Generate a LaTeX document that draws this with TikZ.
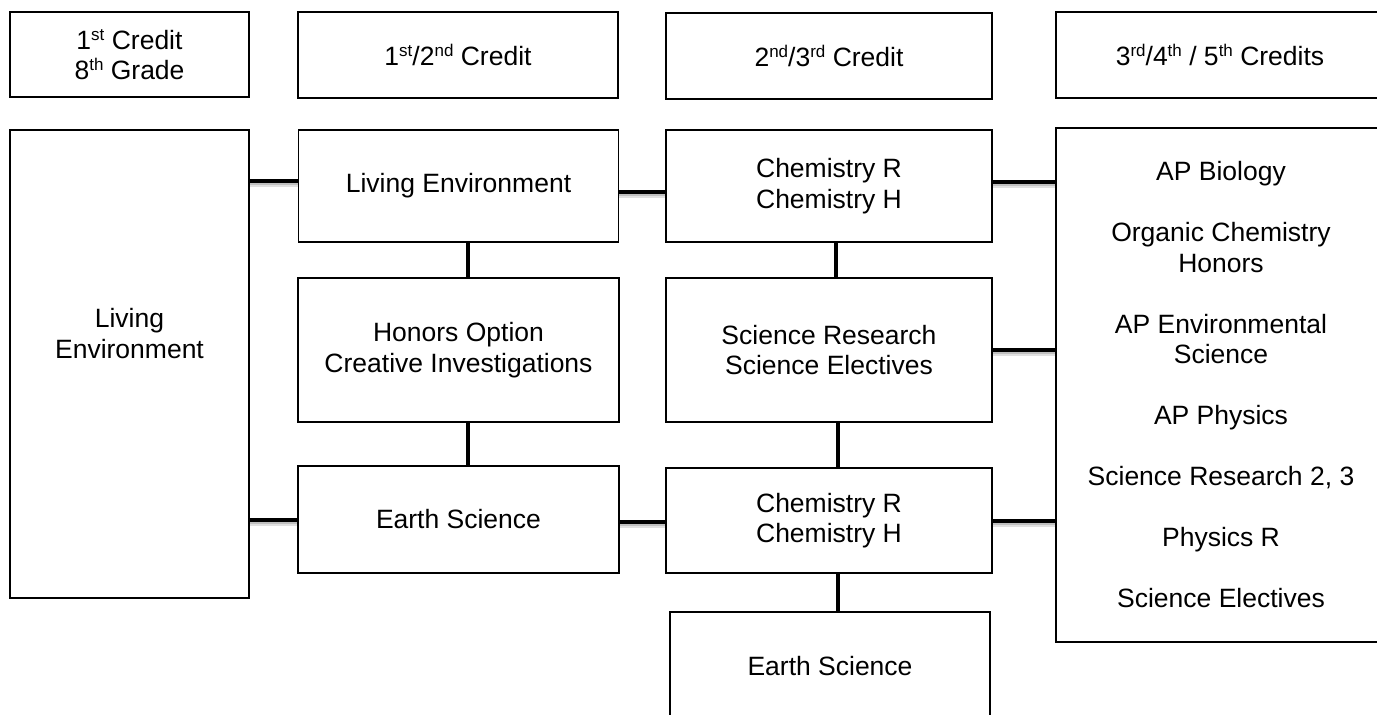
\documentclass[tikz,border=0pt]{standalone}
\usepackage{fontspec}
\setmainfont{Liberation Sans}
\newcommand\sups[1]{\raisebox{9pt}{\fontsize{17}{17}\selectfont #1}}
\begin{document}
\begin{tikzpicture}[x=1pt,y=-1pt,
  txt/.style={align=center, inner sep=0pt, font=\fontsize{26.5}{30.5}\selectfont},
  box/.style={txt, draw, line width=1.8pt, rectangle},
  link/.style={line width=4.8pt, black,
    preaction={draw, black!12, line width=7pt, transform canvas={yshift=-2.5pt}},
    preaction={draw, black!25, line width=4pt, transform canvas={yshift=-2pt}}},
  vlink/.style={line width=4.8pt, black}]
\useasboundingbox (0,0) rectangle (1377,715);
\fill[white] (0,0) rectangle (1377,715);
\clip (0,0) rectangle (1377,715);
% headers
\node[box, minimum width=239pt, minimum height=85pt] (h1) at (129.5,54.5) {1\sups{st} Credit\\8\sups{th} Grade};
\node[box, minimum width=320pt, minimum height=86pt] (h2) at (458,55) {1\sups{st}/2\sups{nd} Credit};
\node[box, minimum width=326pt, minimum height=86pt] (h3) at (829,56) {2\sups{nd}/3\sups{rd} Credit};
\node[box, minimum width=328pt, minimum height=86pt] (h4) at (1220,55) {3\sups{rd}/4\sups{th} / 5\sups{th} Credits};
% column 1
\node[box, minimum width=239pt, minimum height=468pt] (lbox) at (129.5,364) {};
\node[txt] (lbtext) at (129.5,333.5) {Living\\Environment};
% column 2
\node[box, minimum width=320pt, minimum height=112pt] (le) at (458.5,186) {Living Environment};
\node[box, minimum width=321pt, minimum height=144pt] (hon) at (458.5,350) {Honors Option\\Creative Investigations};
\node[box, minimum width=321pt, minimum height=107pt] (esl) at (458.5,519.5) {Earth Science};
% column 3
\node[box, minimum width=326pt, minimum height=112pt] (cht) at (829,186) {Chemistry R\\Chemistry H};
\node[box, minimum width=326pt, minimum height=144pt] (sr) at (829,350) {Science Research\\Science Electives};
\node[box, minimum width=326pt, minimum height=105pt] (chb) at (829,520.5) {Chemistry R\\Chemistry H};
\node[box, minimum width=320pt, minimum height=108pt] (esb) at (830,666) {Earth Science};
% column 4
\node[box, minimum width=330pt, minimum height=514pt] (rbox) at (1221,385) {AP Biology\\[30.5pt]Organic Chemistry\\Honors\\[30.5pt]AP Environmental\\Science\\[30.5pt]AP Physics\\[30.5pt]Science Research 2, 3\\[30.5pt]Physics R\\[30.5pt]Science Electives};
% horizontal connectors
\draw[link] (lbox.east |- 0,181) -- (le.west |- 0,181);
\draw[link] (le.east |- 0,192) -- (cht.west |- 0,192);
\draw[link] (cht.east |- 0,182) -- (rbox.west |- 0,182);
\draw[link] (sr.east |- 0,350) -- (rbox.west |- 0,350);
\draw[link] (chb.east |- 0,521) -- (rbox.west |- 0,521);
\draw[link] (lbox.east |- 0,520) -- (esl.west |- 0,520);
\draw[link] (esl.east |- 0,522) -- (chb.west |- 0,522);
% vertical connectors
\draw[vlink] (le.south -| 468,0) -- (hon.north -| 468,0);
\draw[vlink] (hon.south -| 468,0) -- (esl.north -| 468,0);
\draw[vlink] (cht.south -| 836,0) -- (sr.north -| 836,0);
\draw[vlink] (sr.south -| 838,0) -- (chb.north -| 838,0);
\draw[vlink] (chb.south -| 838,0) -- (esb.north -| 838,0);
\end{tikzpicture}
\end{document}
